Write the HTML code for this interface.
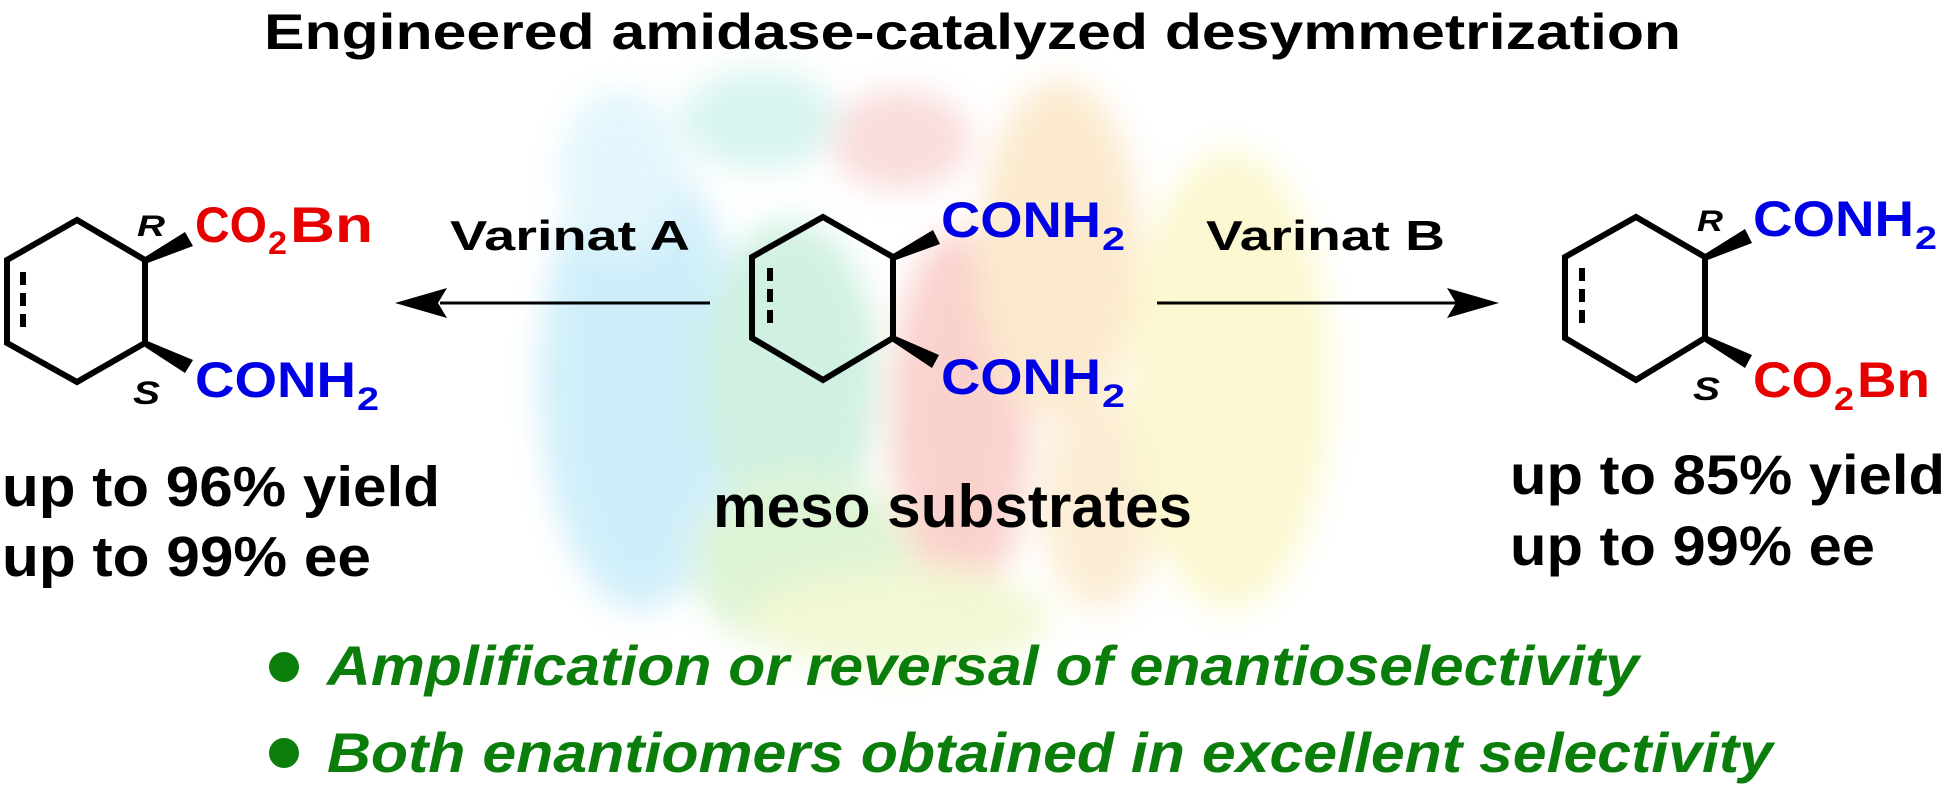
<!DOCTYPE html>
<html><head><meta charset="utf-8"><style>
html,body{margin:0;padding:0;background:#fff;}
body{width:1950px;height:798px;position:relative;overflow:hidden;}
svg text{font-family:"Liberation Sans",sans-serif;font-weight:bold;}
</style></head><body>
<svg width="1950" height="798" style="position:absolute;left:0;top:0" xmlns="http://www.w3.org/2000/svg">
<defs><filter id="b" x="-50%" y="-50%" width="200%" height="200%"><feGaussianBlur stdDeviation="16"/></filter></defs>
<g filter="url(#b)" opacity="0.22">
<ellipse cx="640" cy="380" rx="100" ry="230" fill="#29b6e8"/>
<ellipse cx="620" cy="170" rx="60" ry="80" fill="#7fd8f0"/>
<ellipse cx="790" cy="380" rx="90" ry="160" fill="#2fc07a"/>
<ellipse cx="800" cy="560" rx="110" ry="90" fill="#6ad040"/>
<ellipse cx="960" cy="420" rx="70" ry="190" fill="#e83020"/>
<ellipse cx="900" cy="140" rx="70" ry="50" fill="#e86060"/>
<ellipse cx="1060" cy="250" rx="80" ry="170" fill="#f0a020"/>
<ellipse cx="1100" cy="500" rx="60" ry="110" fill="#f0b040"/>
<ellipse cx="1230" cy="380" rx="100" ry="230" fill="#f0e030"/>
<ellipse cx="760" cy="120" rx="80" ry="50" fill="#50d0c0"/>
<ellipse cx="900" cy="620" rx="150" ry="50" fill="#c0e040"/>
</g>
<g stroke="#000" stroke-width="6" fill="none" stroke-linejoin="miter">
<polygon points="77,220 145,260 145,343 77,382 7,343 7,260"/>
<line x1="23" y1="272" x2="23" y2="332" stroke-dasharray="13,8"/>
<polygon points="823,217 893,257 893,338 823,380 752,338 752,257"/>
<line x1="770" y1="268" x2="770" y2="330" stroke-dasharray="13,8"/>
<polygon points="1636,217 1705,257 1705,338 1636,380 1565,338 1565,257"/>
<line x1="1582" y1="268" x2="1582" y2="330" stroke-dasharray="13,8"/>
</g>
<g fill="#000">
<polygon points="145,257 145,264 193,246 185,232"/>
<polygon points="145,340 145,347 185,373 193,360"/>
<polygon points="893,254 893,261 940,244 933,230"/>
<polygon points="893,335 893,342 932,368 939,355"/>
<polygon points="1705,254 1705,261 1752,243 1745,229"/>
<polygon points="1705,335 1705,342 1745,368 1752,355"/>
</g>
<line x1="440" y1="303" x2="710" y2="303" stroke="#000" stroke-width="3"/>
<polygon points="395,303 447,288 438,303 447,318" fill="#000"/>
<line x1="1157" y1="303" x2="1460" y2="303" stroke="#000" stroke-width="3"/>
<polygon points="1499,303 1447,288 1456,303 1447,318" fill="#000"/>
<circle cx="284" cy="667" r="15" fill="#0a7d0a"/>
<circle cx="284" cy="753" r="15" fill="#0a7d0a"/>

<text x="264" y="49" font-size="50" textLength="1417" lengthAdjust="spacingAndGlyphs">Engineered amidase-catalyzed desymmetrization</text>

<text x="137" y="236" font-size="30" font-style="italic" textLength="28" lengthAdjust="spacingAndGlyphs">R</text>
<text x="195" y="242" font-size="50" fill="#e60000" textLength="72" lengthAdjust="spacingAndGlyphs">CO</text>
<text x="268" y="254" font-size="32" fill="#e60000" textLength="19" lengthAdjust="spacingAndGlyphs">2</text>
<text x="290" y="242" font-size="50" fill="#e60000" textLength="83" lengthAdjust="spacingAndGlyphs">Bn</text>
<text x="133" y="404" font-size="32" font-style="italic" textLength="27" lengthAdjust="spacingAndGlyphs">S</text>
<text x="195" y="397" font-size="50" fill="#0000e6" textLength="161" lengthAdjust="spacingAndGlyphs">CONH</text>
<text x="357" y="410" font-size="32" fill="#0000e6" textLength="22" lengthAdjust="spacingAndGlyphs">2</text>

<text x="450" y="250" font-size="42" textLength="240" lengthAdjust="spacingAndGlyphs">Varinat A</text>
<text x="1206" y="250" font-size="42" textLength="239" lengthAdjust="spacingAndGlyphs">Varinat B</text>

<text x="941" y="237" font-size="50" fill="#0000e6" textLength="160" lengthAdjust="spacingAndGlyphs">CONH</text>
<text x="1102" y="250" font-size="32" fill="#0000e6" textLength="23" lengthAdjust="spacingAndGlyphs">2</text>
<text x="941" y="394" font-size="50" fill="#0000e6" textLength="160" lengthAdjust="spacingAndGlyphs">CONH</text>
<text x="1102" y="407" font-size="32" fill="#0000e6" textLength="23" lengthAdjust="spacingAndGlyphs">2</text>

<text x="1697" y="231" font-size="30" font-style="italic" textLength="26" lengthAdjust="spacingAndGlyphs">R</text>
<text x="1753" y="236" font-size="50" fill="#0000e6" textLength="161" lengthAdjust="spacingAndGlyphs">CONH</text>
<text x="1915" y="249" font-size="32" fill="#0000e6" textLength="22" lengthAdjust="spacingAndGlyphs">2</text>
<text x="1693" y="400" font-size="32" font-style="italic" textLength="27" lengthAdjust="spacingAndGlyphs">S</text>
<text x="1753" y="397" font-size="50" fill="#e60000" textLength="80" lengthAdjust="spacingAndGlyphs">CO</text>
<text x="1834" y="410" font-size="32" fill="#e60000" textLength="20" lengthAdjust="spacingAndGlyphs">2</text>
<text x="1857" y="397" font-size="50" fill="#e60000" textLength="73" lengthAdjust="spacingAndGlyphs">Bn</text>

<text x="2" y="506" font-size="57" textLength="438" lengthAdjust="spacingAndGlyphs">up to 96% yield</text>
<text x="2" y="576" font-size="57" textLength="369" lengthAdjust="spacingAndGlyphs">up to 99% ee</text>
<text x="713" y="527" font-size="60" textLength="479" lengthAdjust="spacingAndGlyphs">meso substrates</text>
<text x="1510" y="494" font-size="56" textLength="435" lengthAdjust="spacingAndGlyphs">up to 85% yield</text>
<text x="1510" y="565" font-size="56" textLength="365" lengthAdjust="spacingAndGlyphs">up to 99% ee</text>

<text x="327" y="685" font-size="56" font-style="italic" fill="#0a7d0a" textLength="1312" lengthAdjust="spacingAndGlyphs">Amplification or reversal of enantioselectivity</text>
<text x="327" y="772" font-size="56" font-style="italic" fill="#0a7d0a" textLength="1446" lengthAdjust="spacingAndGlyphs">Both enantiomers obtained in excellent selectivity</text>
</svg>
</body></html>
